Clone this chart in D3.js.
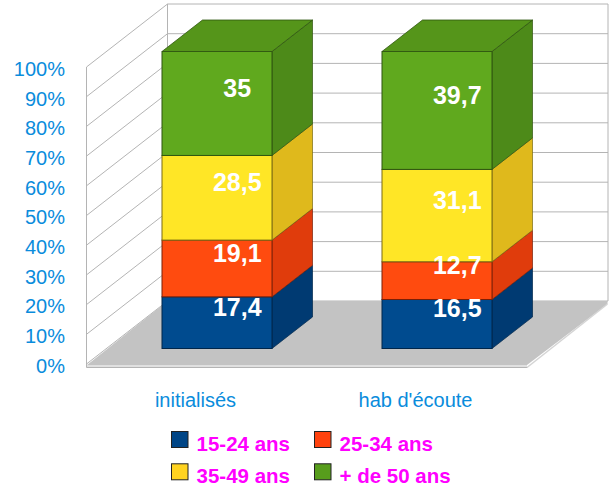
<!DOCTYPE html>
<html><head><meta charset="utf-8">
<script src="https://cdn.jsdelivr.net/npm/d3@7"></script>
<style>html,body{margin:0;padding:0;background:#fff}svg{display:block}text{font-family:"Liberation Sans",Arial,sans-serif}</style>
</head><body><svg id="c" width="612" height="492"></svg>
<script>
const categories = ["initialisés", "hab d'écoute"];
const seriesNames = ["15-24 ans", "25-34 ans", "35-49 ans", "+ de 50 ans"];
const s1524 = [17.4, 16.5];
const s2534 = [19.1, 12.7];
const s3549 = [28.5, 31.1];
const s50 = [35, 39.7];
const yTicks = [0,10,20,30,40,50,60,70,80,90,100];
const frontColors = ["#004b8f","#ff4b0f","#ffe626","#60a91e"];
const sideColors = ["#003a72","#e03c0c","#dfb91c","#4d8a19"];
const strokeColors = ["#00264a","#7a2008","#7a6a12","#2f5510"];
const topColor = "#55951a";
const legendColors = ["#004586","#ff420e","#ffd320","#579d1c"];

const svg = d3.select("#c");
const depthX = 80.5, depthY = -63;
const barOffX = 20, barOffY = -15.5, barDX = 40.5, barDY = -31.5;
const y = d3.scaleLinear().domain([0,100]).range([364,67]);
const x = d3.scaleBand().domain(categories).range([87,527]);
const grid = "#b4b4b4";
const poly = p => p.map(q=>q.join(",")).join(" ");

// back wall + grid
const g = svg.append("g");
g.selectAll("line.back").data(yTicks).join("line")
  .attr("x1",87+depthX).attr("x2",527+depthX+0.5)
  .attr("y1",d=>y(d)+depthY).attr("y2",d=>y(d)+depthY)
  .attr("stroke",grid).attr("stroke-width",1);
g.selectAll("line.side").data(yTicks).join("line").attr("class","side")
  .attr("x1",86.5).attr("x2",87+depthX)
  .attr("y1",d=>y(d)).attr("y2",d=>y(d)+depthY)
  .attr("stroke",grid).attr("stroke-width",1);
g.append("line").attr("x1",86.5).attr("x2",86.5).attr("y1",y(100)).attr("y2",y(0)+3.5).attr("stroke",grid);
g.append("line").attr("x1",87+depthX).attr("x2",87+depthX).attr("y1",y(100)+depthY).attr("y2",y(0)+depthY).attr("stroke",grid);
g.append("line").attr("x1",527+depthX+.5).attr("x2",527+depthX+.5).attr("y1",y(100)+depthY).attr("y2",y(0)+depthY).attr("stroke",grid);

// floor
const fx0=x.range()[0], fx1=x.range()[1], fy=y(0);
g.append("polygon").attr("points",poly([[fx0,fy+1],[fx1,fy+1],[fx1+depthX,fy+depthY+3],[fx1+depthX,fy+depthY],[fx0+depthX,fy+depthY]])).attr("fill","#c3c3c3");
g.append("polygon").attr("points",poly([[fx0,fy+1],[fx1,fy+1],[fx1,fy+3.5],[fx0,fy+3.5]])).attr("fill","#e0e0e0");
g.append("line").attr("x1",fx0-.5).attr("x2",fx1+.5).attr("y1",fy+3.5).attr("y2",fy+3.5).attr("stroke",grid).attr("stroke-width",1.2);
g.append("line").attr("x1",fx1).attr("y1",fy+3.5).attr("x2",fx1+depthX).attr("y2",fy+depthY+3).attr("stroke","#d4d4d4").attr("stroke-width",1.5);

// bars
const stack = d3.stack().keys([0,1,2,3]).value((d,k)=>d[k]);
const rows = categories.map((c,i)=>[s1524[i],s2534[i],s3549[i],s50[i]]);
const layers = stack(rows);
const fy2 = v => y(v)+barOffY;
categories.forEach((c,ci)=>{
  const bw = x.bandwidth()/2;
  const bx0 = x(c)+x.bandwidth()/4+barOffX, bx1 = bx0+bw;
  const cg = svg.append("g");
  layers.forEach((L,k)=>{
    const [v0,v1]=L[ci];
    const yb=fy2(v0), yt=fy2(v1);
    cg.append("polygon").attr("points",poly([[bx1,yb],[bx1+barDX,yb+barDY],[bx1+barDX,yt+barDY],[bx1,yt]]))
      .attr("fill",sideColors[k]).attr("stroke",strokeColors[k]).attr("stroke-width",.7);
    cg.append("rect").attr("x",bx0).attr("y",yt).attr("width",bw).attr("height",yb-yt)
      .attr("fill",frontColors[k]).attr("stroke",strokeColors[k]).attr("stroke-width",1);
    if(k===layers.length-1){
      cg.append("polygon").attr("points",poly([[bx0,yt],[bx1,yt],[bx1+barDX,yt+barDY],[bx0+barDX,yt+barDY]]))
        .attr("fill",topColor).attr("stroke",strokeColors[k]).attr("stroke-width",.8);
    }
  });
  layers.forEach((L,k)=>{
    const [v0,v1]=L[ci];
    cg.append("text").attr("x",(bx0+bx1+barDX)/2).attr("y",(fy2(v0)+fy2(v1)+barDY)/2+9)
      .attr("text-anchor","middle").attr("font-weight","bold").attr("font-size",25).attr("fill","#fff")
      .text(String(v1-v0 < 0 ? 0 : rows[ci][k]).replace(".",","));
  });
});

// axis labels
svg.append("g").selectAll("text").data(yTicks).join("text")
  .attr("x",65).attr("y",d=>y(d)+8.8).attr("text-anchor","end").attr("font-size",20).attr("fill","#0a8cdc")
  .text(d=>d+"%");
svg.append("g").selectAll("text").data(categories).join("text")
  .attr("x",d=>x(d)+x.bandwidth()/2-1.5).attr("y",406.5).attr("text-anchor","middle").attr("font-size",20).attr("fill","#0a8cdc")
  .text(d=>d);

// legend
const lx = d3.scaleOrdinal().domain([0,1]).range([171.5,314.5]);
const ly = d3.scaleOrdinal().domain([0,1]).range([431.5,463.8]);
const lg = svg.append("g").selectAll("g").data(seriesNames).join("g")
  .attr("transform",(d,i)=>`translate(${lx(i%2)},${ly(Math.floor(i/2))})`);
lg.append("rect").attr("width",16.5).attr("height",16).attr("fill",(d,i)=>legendColors[i]).attr("stroke","#222").attr("stroke-width",1);
lg.append("text").attr("x",25).attr("y",19.5).attr("font-weight","bold").attr("font-size",20.5).attr("fill","#ff00ff").text(d=>d);
</script></body></html>
